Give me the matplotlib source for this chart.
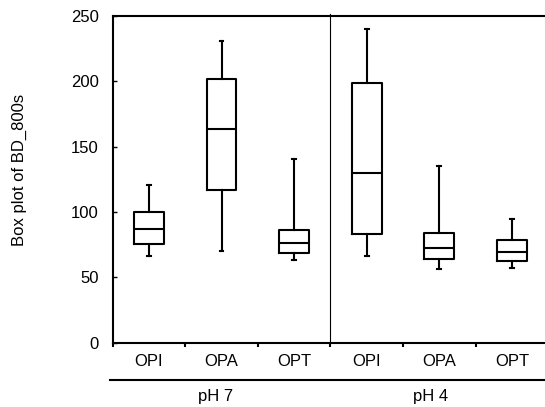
import matplotlib
matplotlib.use("Agg")
import matplotlib.pyplot as plt
from matplotlib.ticker import FixedLocator, NullFormatter

plt.rcParams['font.family'] = ['Liberation Sans', 'DejaVu Sans']

# data
categories = ["OPI", "OPA", "OPT", "OPI", "OPA", "OPT"]
groups = ["pH 7", "pH 4"]
whislo = [66.6, 70.2, 63.5, 66.6, 56.1, 56.9]
q1 = [75.3, 116.8, 68.9, 83.2, 63.8, 62.8]
med = [87.2, 163.8, 76.5, 129.8, 72.7, 69.6]
q3 = [99.7, 202.0, 86.2, 198.7, 83.9, 78.8]
whishi = [120.7, 230.6, 140.6, 239.8, 135.5, 94.6]

stats = []
for i in range(len(categories)):
    stats.append({"whislo": whislo[i], "q1": q1[i], "med": med[i],
                  "q3": q3[i], "whishi": whishi[i], "fliers": []})

fig = plt.figure(figsize=(5.45, 4.07), dpi=100)
ax = fig.add_axes([0.2068, 0.158, 0.799, 0.803])

lw = 1.5
ax.bxp(stats, positions=range(1, 7), widths=0.41, capwidths=0.05,
       showfliers=False,
       boxprops=dict(color="black", linewidth=lw),
       whiskerprops=dict(color="black", linewidth=lw),
       capprops=dict(color="black", linewidth=lw),
       medianprops=dict(color="black", linewidth=lw))

ax.set_xlim(0.5, 6.5)
ax.set_ylim(0, 250)
ax.set_yticks([0, 50, 100, 150, 200, 250])
ax.tick_params(axis="y", direction="in", length=3, width=1, pad=10, labelsize=12)

ax.set_xticks(range(1, 7))
ax.set_xticklabels(categories)
ax.tick_params(axis="x", which="major", length=0, pad=8, labelsize=12)
ax.xaxis.set_minor_locator(FixedLocator([0.5, 1.5, 2.5, 3.5, 4.5, 5.5]))
ax.xaxis.set_minor_formatter(NullFormatter())
ax.tick_params(axis="x", which="minor", direction="out", length=3, width=1.5)

for s in ["left", "bottom", "top"]:
    ax.spines[s].set_linewidth(lw)
ax.spines["right"].set_visible(False)

# separator between pH groups
ax.axvline(3.5, ymin=0, ymax=1.005, color="black", linewidth=0.8, clip_on=False)

# group line and labels under the axis
ax.plot([-0.006, 1.0], [-0.114, -0.114], transform=ax.transAxes,
        color="black", linewidth=lw, clip_on=False)
ax.text(1.92, -0.166, groups[0], transform=ax.get_xaxis_transform(),
        ha="center", va="center", fontsize=12)
ax.text(4.88, -0.166, groups[1], transform=ax.get_xaxis_transform(),
        ha="center", va="center", fontsize=12)

fig.text(0.035, 0.582, "Box plot of BD_800s", rotation=90,
         ha="center", va="center", fontsize=12)

fig.savefig("out.png", dpi=100)
